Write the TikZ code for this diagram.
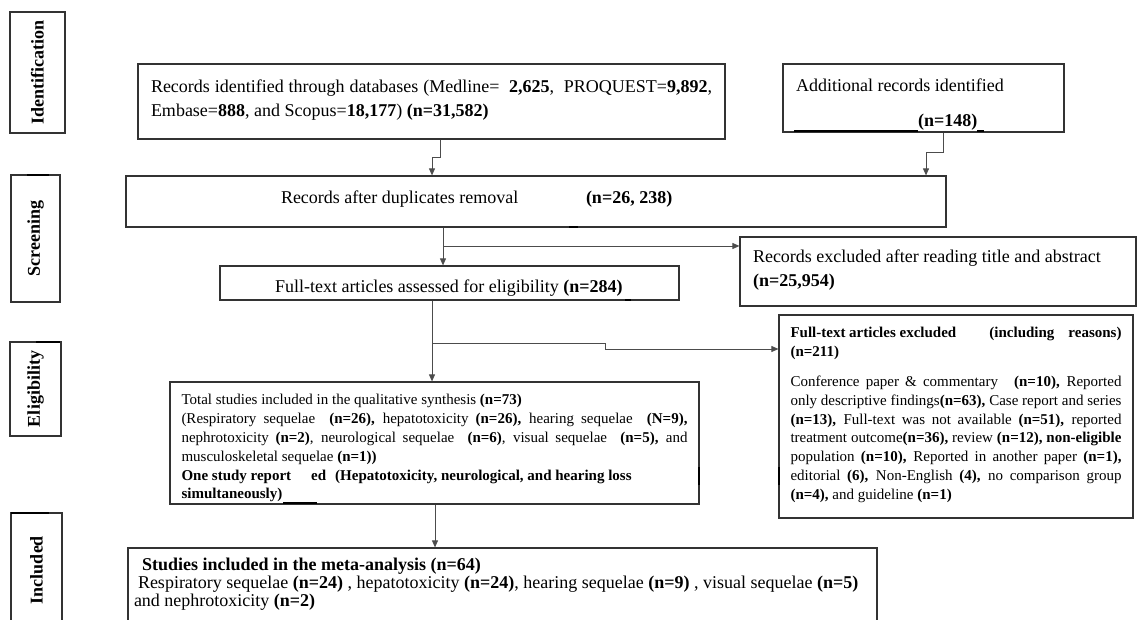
\documentclass[tikz,border=0pt]{standalone}
\usepackage{fontspec}
\setmainfont{Liberation Serif}
\usetikzlibrary{arrows.meta}
\newcommand{\fbig}{\fontsize{18pt}{24pt}\selectfont}
\newcommand{\fsmall}{\fontsize{15pt}{18.8pt}\selectfont}
\newcommand{\fmeta}{\fontsize{18pt}{17.5pt}\selectfont}
\newcommand{\boxtext}[4]{\parbox[c][#2][t]{#1}{\vspace*{#3}\strut#4}}

\begin{document}
\begin{tikzpicture}[x=1pt, y=-1pt, >={Triangle[length=7pt,width=6pt]},
    stage/.style={draw=black!80, line width=1.3pt, rotate=90, inner sep=0pt,
      font=\fontsize{18pt}{20pt}\selectfont\bfseries},
    box/.style={draw=black!80, line width=1.2pt, inner ysep=0pt},
    link/.style={->, draw=black!70, line width=0.9pt},
    blot/.style={line width=2.2pt, black}]
    \useasboundingbox (0,0) rectangle (1138,620);
    \clip (0,0) rectangle (1138,620);

    \node[stage, minimum width=121pt, minimum height=55pt] (ident) at (37.5,72.5) {Identification};
    \node[stage, minimum width=127pt, minimum height=49pt] (screen) at (35.5,238.5) {Screening};
    \node[stage, minimum width=94pt, minimum height=51pt] (elig) at (35.5,389) {Eligibility};
    \node[stage, minimum width=114pt, minimum height=51pt] (incl) at (36.5,570) {Included};

    \node[box, font=\fbig, inner xsep=13pt] (recdb) at (431.5,101.5)
      {\boxtext{561pt}{75pt}{12.2pt}{\makebox[\linewidth][s]{Records identified through databases (Medline=\ \ \textbf{2,625},\ \ PROQUEST=\textbf{9,892},}\\
       Embase=\textbf{888}, and Scopus=\textbf{18,177}) \textbf{(n=31,582)}}};
    \node[box, font=\fbig, inner xsep=13pt] (recadd) at (923.5,98)
      {\boxtext{255pt}{68pt}{11.2pt}{Additional records identified\\[11pt]
       \hspace*{122pt}\textbf{(n=148)}}};
    \node[box, font=\fbig, inner xsep=13pt] (dup) at (536,201.5)
      {\boxtext{794pt}{51pt}{11.2pt}{\hspace*{142pt}\makebox[305pt][l]{Records after duplicates removal}\textbf{(n=26, 238)}}};
    \node[box, font=\fbig, inner xsep=13pt] (ftx) at (449.5,283)
      {\boxtext{433pt}{34pt}{10pt}{\hspace*{42pt}Full-text articles assessed for eligibility \textbf{(n=284)}}};
    \node[box, font=\fbig, inner xsep=13pt] (exclta) at (938,271.5)
      {\boxtext{370pt}{69pt}{9.2pt}{Records excluded after reading title and abstract\\
       \textbf{(n=25,954)}}};
    \node[box, font=\fsmall, inner xsep=11.5pt] (total) at (434.5,443)
      {\boxtext{506pt}{122pt}{9.8pt}{Total studies included in the qualitative synthesis \textbf{(n=73)}\\
       \makebox[\linewidth][s]{(Respiratory sequelae\ \ \textbf{(n=26),} hepatotoxicity \textbf{(n=26),} hearing sequelae\ \ \textbf{(N=9),}}\\
       \makebox[\linewidth][s]{nephrotoxicity \textbf{(n=2)}, neurological sequelae\ \ \textbf{(n=6)}, visual sequelae\ \ \textbf{(n=5),} and}\\
       musculoskeletal sequelae \textbf{(n=1))}\\
       \textbf{One study report\hspace{20pt}ed\hspace{9pt}(Hepatotoxicity, neurological, and hearing loss}\\
       \textbf{simultaneously)}}};
    \node[box, font=\fsmall, inner xsep=11.5pt] (exclft) at (956,416.5)
      {\boxtext{331pt}{203pt}{9.8pt}{\textbf{Full-text articles excluded}\hfill\textbf{(including\hspace{14pt}reasons)}\\
       \textbf{(n=211)}\\[11pt]
       \makebox[\linewidth][s]{Conference paper \& commentary\hspace{10pt} \textbf{(n=10),} Reported}\\
       \makebox[\linewidth][s]{only descriptive findings\textbf{(n=63),} Case report and series}\\
       \makebox[\linewidth][s]{\textbf{(n=13),} Full-text was not available \textbf{(n=51),} reported}\\
       \makebox[\linewidth][s]{treatment outcome\textbf{(n=36),} review \textbf{(n=12), non-eligible}}\\
       \makebox[\linewidth][s]{population \textbf{(n=10),} Reported in another paper \textbf{(n=1),}}\\
       \makebox[\linewidth][s]{editorial \textbf{(6),} Non-English \textbf{(4),} no comparison group}\\
       \textbf{(n=4),} and guideline \textbf{(n=1)}}};
    \node[box, font=\fmeta, inner xsep=6pt] (meta) at (502.5,588)
      {\boxtext{737pt}{80pt}{9.75pt}{\hspace*{8pt}\textbf{Studies included in the meta-analysis (n=64)}\\
       \hspace*{4pt}Respiratory sequelae \textbf{(n=24)} , hepatotoxicity \textbf{(n=24)}, hearing sequelae \textbf{(n=9)} , visual sequelae \textbf{(n=5)}\\
       and nephrotoxicity \textbf{(n=2)}}};

    \draw[link] (recdb.south -| 440,0) |- (432,157) -- (dup.north -| 432,0);
    \draw[link] (recadd.south -| 943,0) |- (926,152) -- (dup.north -| 926,0);
    \draw[link] (dup.south -| 443,0) -- (ftx.north -| 443,0);
    \coordinate (cutA) at (443,246);
    \draw[link] (cutA) -- (exclta.west |- cutA);
    \draw[link] (ftx.south -| 432,0) -- (total.north -| 432,0);
    \coordinate (cutB) at (432,343);
    \draw[link] (cutB) -- (605,343) -- (605,349) -- (exclft.west |- 0,349);
    \draw[link] (total.south -| 435,0) -- (meta.north -| 435,0);

    \draw[blot] (794,131) -- (918,131);
    \draw[blot] (977,131) -- (984,131);
    \draw[blot] (283,503) -- (317,503);
    \draw[blot] (569,227) -- (578,227);
    \draw[blot] (625,300) -- (631,300);
    \draw[blot] (699,467) -- (699,485);
    \draw[blot] (779,467) -- (779,485);
    \draw[blot] (27,175) -- (49,175);
    \draw[blot] (36,342) -- (60,342);
    \draw[blot] (11,513) -- (49,513);
\end{tikzpicture}
\end{document}
